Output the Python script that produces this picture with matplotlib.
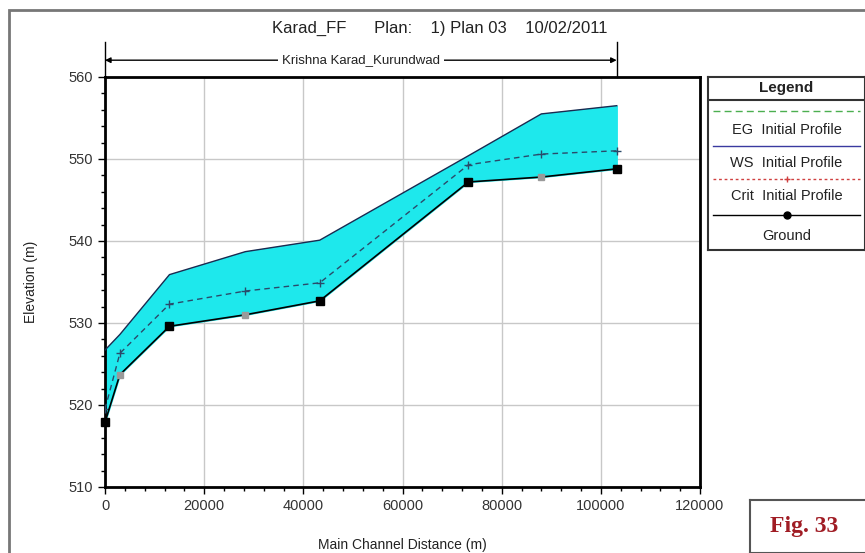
import matplotlib.pyplot as plt
from matplotlib.patches import Rectangle
from matplotlib.lines import Line2D
from matplotlib.ticker import MultipleLocator

plt.rcParams['font.family'] = ['Liberation Sans', 'DejaVu Sans']

# river stations (main channel distance, m)
distance = [0, 3000, 13000, 28300, 43300, 73300, 88000, 103200]
# elevations (m)
ws_elev = [526.7, 528.6, 535.9, 538.7, 540.1, 550.4, 555.5, 556.5]
crit_elev = [519.5, 526.3, 532.3, 533.9, 534.9, 549.3, 550.6, 551.0]
ground_elev = [517.9, 523.7, 529.6, 531.0, 532.7, 547.2, 547.8, 548.8]

title_text = "Karad_FF      Plan:    1) Plan 03    10/02/2011"
reach_name = "Krishna Karad_Kurundwad"
legend_labels = ["EG  Initial Profile", "WS  Initial Profile",
                 "Crit  Initial Profile", "Ground"]

W, H = 865, 553
fig = plt.figure(figsize=(W / 100, H / 100), dpi=100)

def fx(px):
    return px / W

def fy(py):
    return 1 - py / H

# main axes
ax = fig.add_axes([fx(105), fy(487), fx(700) - fx(105), fy(77) - fy(487)])
ax.fill_between(distance, ground_elev, ws_elev, color='#1ee8ec', zorder=1)
ax.plot(distance, ws_elev, color='#1a2a50', lw=1.0, zorder=3)
ax.plot(distance, crit_elev, color='#2a4a6a', lw=1.0, ls=(0, (4, 3)),
        marker='+', ms=6, mew=1.0, zorder=3)
ax.plot(distance, ground_elev, color='black', lw=1.2, zorder=4)
ax.plot(distance, ground_elev, ls='none', marker='s', ms=6, color='black',
        markevery=[0, 2, 4, 5, 7], zorder=5, clip_on=False)
ax.plot(distance, ground_elev, ls='none', marker='s', ms=4.5, color='#9a9a9a',
        markevery=[1, 3, 6], zorder=5)

ax.set_xlim(0, 120000)
ax.set_ylim(510, 560)
ax.xaxis.set_major_locator(MultipleLocator(20000))
ax.xaxis.set_minor_locator(MultipleLocator(4000))
ax.yaxis.set_major_locator(MultipleLocator(10))
ax.yaxis.set_minor_locator(MultipleLocator(2))
ax.grid(True, which='major', color='#c8c8c8', lw=1.0, zorder=0)
ax.set_axisbelow(True)
for sp in ax.spines.values():
    sp.set_linewidth(2.0)
ax.tick_params(which='major', direction='out', length=5, width=1,
               labelsize=10.5, colors='black', labelcolor='#333333')
ax.tick_params(which='minor', direction='out', length=3, width=1)
ax.set_xlabel("Main Channel Distance (m)", fontsize=10, color='#222222', labelpad=18)
ax.set_ylabel("Elevation (m)", fontsize=10, color='#222222', labelpad=22)

# title
fig.text(fx(440), fy(28), title_text, ha='center', va='center', fontsize=12,
         color='#222222')

# reach annotation
tr = ax.get_xaxis_transform()
ax.plot([distance[0], distance[0]], [1.0, 1.085], transform=tr, color='black',
        lw=1.0, clip_on=False)
ax.plot([distance[-1], distance[-1]], [1.0, 1.085], transform=tr, color='black',
        lw=1.0, clip_on=False)
ax.annotate('', xy=(distance[0], 1.041), xytext=(distance[-1], 1.041),
            xycoords=tr, textcoords=tr,
            arrowprops=dict(arrowstyle='<|-|>', color='black', lw=1.0,
                            mutation_scale=8, shrinkA=0, shrinkB=0))
ax.text((distance[0] + distance[-1]) / 2, 1.041, reach_name, transform=tr,
        ha='center', va='center', fontsize=9.5, color='#222222',
        bbox=dict(facecolor='white', edgecolor='none', pad=3))

# legend panel
lax = fig.add_axes([fx(708), fy(250), fx(865) - fx(708), fy(77) - fy(250)])
lax.set_xlim(0, 1)
lax.set_ylim(250, 77)
lax.set_xticks([])
lax.set_yticks([])
for sp in lax.spines.values():
    sp.set_linewidth(1.5)
    sp.set_color('#333333')
lax.axhline(100, color='#333333', lw=1.5)
lax.text(0.5, 88, "Legend", ha='center', va='center', fontsize=11,
         fontweight='bold', color='#222222')
lax.add_line(Line2D([0.03, 0.97], [111, 111], color='#4caf50', lw=1.0,
                    ls=(0, (5, 3))))
lax.text(0.5, 130, legend_labels[0], ha='center', va='center', fontsize=10.5,
         color='#222222')
lax.add_line(Line2D([0.03, 0.97], [146, 146], color='#3a3aa0', lw=1.0))
lax.text(0.5, 163, legend_labels[1], ha='center', va='center', fontsize=10.5,
         color='#222222')
lax.add_line(Line2D([0.03, 0.97], [179, 179], color='#d04040', lw=1.0,
                    ls=(0, (2, 2))))
lax.plot([0.5], [179], marker='+', color='#d04040', ms=5)
lax.text(0.5, 196, legend_labels[2], ha='center', va='center', fontsize=10.5,
         color='#222222')
lax.add_line(Line2D([0.03, 0.97], [215, 215], color='black', lw=1.0))
lax.plot([0.5], [215], marker='o', color='black', ms=5)
lax.text(0.5, 236, legend_labels[3], ha='center', va='center', fontsize=10.5,
         color='#222222')

# figure label box
fax = fig.add_axes([fx(750), 0, fx(870) - fx(750), fy(500)])
fax.set_xticks([])
fax.set_yticks([])
for sp in fax.spines.values():
    sp.set_linewidth(1.5)
    sp.set_color('#555555')
fax.text(0.45, 0.5, "Fig. 33", ha='center', va='center', fontsize=17,
         fontweight='bold', color='#a01c24',
         family=['Liberation Serif', 'DejaVu Serif'], transform=fax.transAxes)

# outer frame
fig.patches.append(Rectangle((fx(9), -0.05), 1.1, fy(10) + 0.05,
                             transform=fig.transFigure, fill=False,
                             edgecolor='#777777', lw=2))

fig.savefig('out.png', dpi=100)
